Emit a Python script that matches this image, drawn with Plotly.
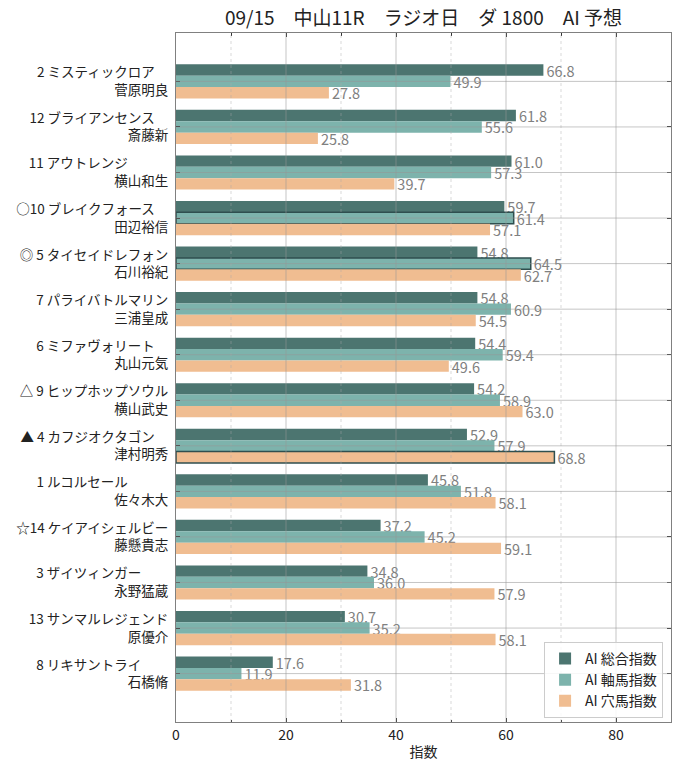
import plotly.graph_objects as go

# ---- data ----
marks = ["", "", "", "○", "◎", "", "", "△", "▲", "", "☆", "", "", ""]
numbers = [2, 12, 11, 10, 5, 7, 6, 9, 4, 1, 14, 3, 13, 8]
horses = ["ミスティックロア", "ブライアンセンス", "アウトレンジ", "ブレイクフォース",
          "タイセイドレフォン", "パライバトルマリン", "ミファヴォリート", "ヒップホップソウル",
          "カフジオクタゴン", "ルコルセール", "ケイアイシェルビー", "ザイツィンガー",
          "サンマルレジェンド", "リキサントライ"]
jockeys = ["菅原明良", "斎藤新", "横山和生", "田辺裕信", "石川裕紀", "三浦皇成", "丸山元気",
           "横山武史", "津村明秀", "佐々木大", "藤懸貴志", "永野猛蔵", "原優介", "石橋脩"]
sogo = [66.8, 61.8, 61.0, 59.7, 54.8, 54.8, 54.4, 54.2, 52.9, 45.8, 37.2, 34.8, 30.7, 17.6]
jiku = [49.9, 55.6, 57.3, 61.4, 64.5, 60.9, 59.4, 58.9, 57.9, 51.8, 45.2, 36.0, 35.2, 11.9]
ana = [27.8, 25.8, 39.7, 57.1, 62.7, 54.5, 49.6, 63.0, 68.8, 58.1, 59.1, 57.9, 58.1, 31.8]
jiku_highlight = [False, False, False, True, True, False, False, False, False, False, False, False, False, False]
ana_highlight = [False, False, False, False, False, False, False, False, True, False, False, False, False, False]
series_names = ["AI 総合指数", "AI 軸馬指数", "AI 穴馬指数"]
title_text = "09/15　中山11R　ラジオ日　ダ 1800　AI 予想"
x_title = "指数"
x_ticks = [0, 20, 40, 60, 80]

# ---- style ----
colors = ["#4c7570", "#7db3ac", "#f0bd91"]
edge = "#2f4f4f"
FONT = "Noto Sans CJK JP"

idx = list(range(len(horses)))
labels = []
for m, n, h, j in zip(marks, numbers, horses, jockeys):
    line1 = f"{m}{n:>2} {h}" + "\u3000" * (9 - len(h))
    labels.append(line1 + "<br>" + j)

fig = go.Figure()
series = [sogo, jiku, ana]
highlights = [[False] * len(sogo), jiku_highlight, ana_highlight]
for name, vals, col, hl in zip(series_names, series, colors, highlights):
    fig.add_trace(go.Bar(
        y=idx, x=vals, name=name, orientation="h",
        marker=dict(color=col,
                    line=dict(color=edge, width=[1.5 if h else 0 for h in hl])),
        text=[f"{v:.1f}" for v in vals], textposition="outside",
        textfont=dict(color="#808080", size=14.5, family=FONT),
        constraintext="none", cliponaxis=False,
    ))

# grid drawn above bars (as in reference)
shapes = []
for gx in [10, 30, 50, 70]:
    shapes.append(dict(type="line", xref="x", yref="paper", x0=gx, x1=gx, y0=0, y1=1,
                       line=dict(color="rgba(170,170,170,0.45)", width=1, dash="dot"), layer="above"))
for gx in [20, 40, 60, 80]:
    shapes.append(dict(type="line", xref="x", yref="paper", x0=gx, x1=gx, y0=0, y1=1,
                       line=dict(color="rgba(150,150,150,0.55)", width=1), layer="above"))
for gy in idx:
    shapes.append(dict(type="line", xref="paper", yref="y", x0=0, x1=1, y0=gy, y1=gy,
                       line=dict(color="rgba(150,150,150,0.55)", width=1), layer="above"))

fig.update_layout(
    width=680, height=771,
    margin=dict(l=176, r=9, t=33, b=49),
    paper_bgcolor="white", plot_bgcolor="white",
    font=dict(family=FONT, color="#222222", size=13.5),
    barmode="group", bargap=0.25, bargroupgap=0,
    title=dict(text=title_text, x=0.5, xref="paper", xanchor="center",
               y=1 - 18 / 771, yref="container", yanchor="middle",
               font=dict(size=19, family=FONT, color="#222222")),
    shapes=shapes,
    showlegend=True,
    legend=dict(x=0.984, y=0.006, xanchor="right", yanchor="bottom",
                bgcolor="rgba(255,255,255,0.85)", bordercolor="#cccccc", borderwidth=1,
                traceorder="normal", font=dict(size=14, family=FONT, color="#222222")),
)
fig.update_xaxes(range=[0, 90], tickvals=x_ticks, showgrid=False, zeroline=False,
                 ticks="inside", ticklen=4, tickcolor="#333333", mirror="ticks",
                 showline=True, linecolor="#808080", linewidth=1,
                 minor=dict(dtick=10, ticks="inside", ticklen=2.5, tickcolor="#333333", showgrid=False),
                 tickfont=dict(size=14, family=FONT, color="#222222"),
                 title=dict(text=x_title, font=dict(size=14, family=FONT, color="#222222"), standoff=4))
fig.update_yaxes(range=[len(horses) - 1 + 1.0625, -1.0625], tickvals=idx, ticktext=labels,
                 showgrid=False, zeroline=False,
                 ticks="inside", ticklen=4, tickcolor="#333333", mirror="ticks",
                 showline=True, linecolor="#808080", linewidth=1,
                 tickfont=dict(size=13.5, family=FONT, color="#222222"),
                 ticklabelstandoff=4)

fig.write_html("out.html")
